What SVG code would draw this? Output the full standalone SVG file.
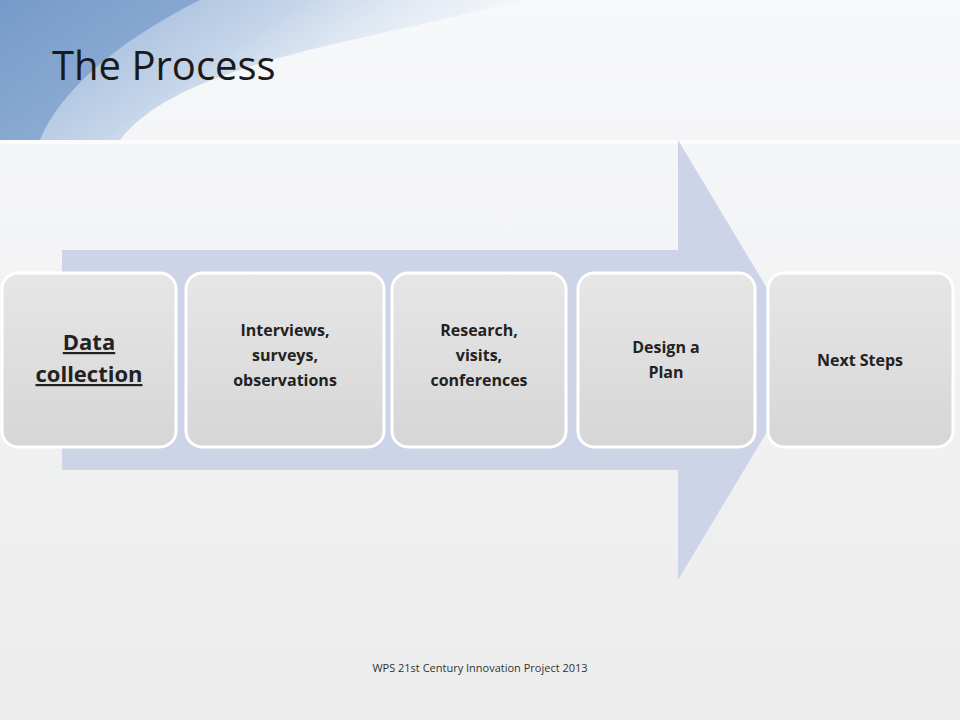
<svg xmlns="http://www.w3.org/2000/svg" width="960" height="720" viewBox="0 0 960 720">
<defs>
<linearGradient id="bg" x1="0" y1="0" x2="0" y2="1"><stop offset="0" stop-color="#f7f8fa"/><stop offset="1" stop-color="#ececec"/></linearGradient>
<linearGradient id="sw" x1="0" y1="0" x2="1" y2="0.4"><stop offset="0" stop-color="#7ea0cc"/><stop offset="0.5" stop-color="#bccfe7"/><stop offset="1" stop-color="#eef3f9" stop-opacity="0"/></linearGradient>
<linearGradient id="bx" x1="0" y1="0" x2="0" y2="1"><stop offset="0" stop-color="#e6e6e6"/><stop offset="1" stop-color="#d6d6d6"/></linearGradient>
<style>
.b{fill:url(#bx);stroke:#fff;stroke-width:3}
.t{font-family:"Open Sans","Liberation Sans",sans-serif;font-weight:bold;font-size:16px;fill:#222;text-anchor:middle}
.big{font-size:22px;text-decoration:underline}
</style>
</defs>
<rect width="960" height="720" fill="url(#bg)"/>
<path d="M0 0 H520 C380 40 180 60 120 140 H0 Z" fill="url(#sw)" opacity="0.85"/>
<path d="M0 0 H200 C120 40 60 90 40 140 H0 Z" fill="#5b87c0" opacity="0.5"/>
<rect x="0" y="140" width="960" height="4" fill="#fff" opacity="0.7"/>
<text x="52" y="80" font-family="Open Sans,Liberation Sans,sans-serif" font-size="40" fill="#1a1a1a">The Process</text>
<g id="connectors"><path d="M62 250 H678 V140 L810 360 L678 580 V470 H62 Z" fill="#cdd4e7"/></g>
<g id="n1"><rect class="b" x="2" y="273" width="174" height="174" rx="16"/><text class="t big" x="89" y="350">Data</text><text class="t big" x="89" y="382">collection</text></g>
<g id="n2"><rect class="b" x="186" y="273" width="198" height="174" rx="16"/><text class="t" x="285" y="336">Interviews,</text><text class="t" x="285" y="361">surveys,</text><text class="t" x="285" y="386">observations</text></g>
<g id="n3"><rect class="b" x="392" y="273" width="174" height="174" rx="16"/><text class="t" x="479" y="336">Research,</text><text class="t" x="479" y="361">visits,</text><text class="t" x="479" y="386">conferences</text></g>
<g id="n4"><rect class="b" x="578" y="273" width="177" height="174" rx="16"/><text class="t" x="666" y="353">Design a</text><text class="t" x="666" y="378">Plan</text></g>
<g id="n5"><rect class="b" x="768" y="273" width="185" height="174" rx="16"/><text class="t" x="860" y="366">Next Steps</text></g>
<text x="480" y="672" font-family="Open Sans,Liberation Sans,sans-serif" font-size="11" fill="#333" text-anchor="middle">WPS 21st Century Innovation Project 2013</text>
</svg>
